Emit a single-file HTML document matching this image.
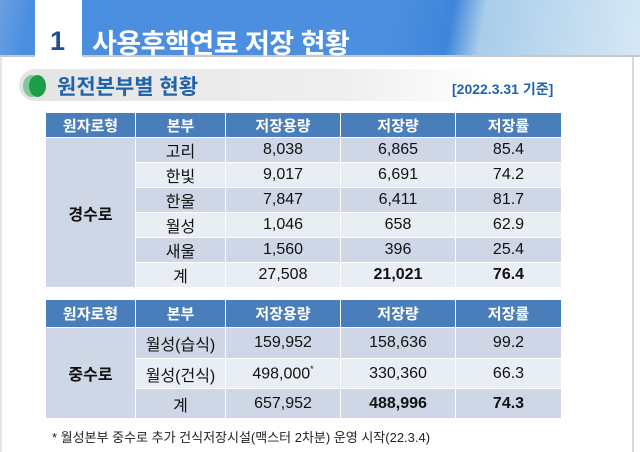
<!DOCTYPE html>
<html><head><meta charset="utf-8"><style>
*{margin:0;padding:0;box-sizing:border-box}
body{width:640px;height:452px;background:#fff;position:relative;overflow:hidden;font-family:"Liberation Sans","Noto Sans CJK KR",sans-serif}
.band{position:absolute;left:0;top:0;width:640px;height:57px;background:linear-gradient(100deg,#6aa0e0 0%,#4a8ee0 5%,#4d8fdf 60%,#3f86db 70%,#a9cdea 75%,#d6e8f5 100%);border-bottom:2px solid #c8c8c8}
.strip{position:absolute;left:35px;top:0;width:47px;height:57px;background:#fff}
.num{position:absolute;left:50px;top:26px;font-size:27px;font-weight:bold;color:#1d4f95}
.ttl{position:absolute;left:92px;top:22px;font-size:27px;font-weight:bold;color:#fff;letter-spacing:-0.5px}
.rborder{position:absolute;left:632px;top:57px;width:2px;height:395px;background:#d8d8d8}
.lborder{position:absolute;left:0;top:57px;width:2px;height:395px;background:#e6e6e6}
.pill{position:absolute;left:19px;top:69px;width:470px;height:32px;border-radius:16px 0 0 16px;background:linear-gradient(90deg,#e4e4e4,#efefef 70%,#fff)}
.c1{position:absolute;left:23px;top:75px;width:17px;height:22px;border-radius:50%;background:#7fc89a}
.c2{position:absolute;left:29px;top:75px;width:17px;height:22px;border-radius:50%;background:#1e9e48}
.sub{position:absolute;left:57px;top:71px;font-size:21px;font-weight:bold;color:#1f63ad}
.date{position:absolute;left:452px;top:79px;font-size:14px;font-weight:bold;color:#1f63ad}
table{position:absolute;left:45px;border-collapse:collapse;font-size:16px;color:#111}
td,th{text-align:center;border:1px solid #fff;padding:0}
th{background:#4a7ebb;color:#fff;font-weight:bold;font-size:15px}
.d{background:#cfd7e6}.l{background:#e9edf4}
b{font-weight:bold}
.foot{position:absolute;left:52px;top:427px;font-size:13px;color:#222}
</style></head><body>
<div class="band"></div><div class="strip"></div>
<div class="num">1</div><div class="ttl">사용후핵연료 저장 현황</div>
<div class="lborder"></div><div class="rborder"></div>
<div class="pill"></div><div class="c1"></div><div class="c2"></div>
<div class="sub">원전본부별 현황</div>
<div class="date">[2022.3.31 기준]</div>
<table style="top:112px">
<colgroup><col style="width:90px"><col style="width:90px"><col style="width:115px"><col style="width:115px"><col style="width:106px"></colgroup>
<tr style="height:25px"><th>원자로형</th><th>본부</th><th>저장용량</th><th>저장량</th><th>저장률</th></tr>
<tr style="height:25px" class="d"><td rowspan="6" class="d"><b>경수로</b></td><td>고리</td><td>8,038</td><td>6,865</td><td>85.4</td></tr>
<tr style="height:25px" class="l"><td>한빛</td><td>9,017</td><td>6,691</td><td>74.2</td></tr>
<tr style="height:25px" class="d"><td>한울</td><td>7,847</td><td>6,411</td><td>81.7</td></tr>
<tr style="height:25px" class="l"><td>월성</td><td>1,046</td><td>658</td><td>62.9</td></tr>
<tr style="height:25px" class="d"><td>새울</td><td>1,560</td><td>396</td><td>25.4</td></tr>
<tr style="height:25px" class="l"><td>계</td><td>27,508</td><td><b>21,021</b></td><td><b>76.4</b></td></tr>
</table>
<table style="top:299px">
<colgroup><col style="width:90px"><col style="width:90px"><col style="width:115px"><col style="width:115px"><col style="width:106px"></colgroup>
<tr style="height:28px"><th>원자로형</th><th>본부</th><th>저장용량</th><th>저장량</th><th>저장률</th></tr>
<tr style="height:31px" class="d"><td rowspan="3" class="d"><b>중수로</b></td><td>월성(습식)</td><td>159,952</td><td>158,636</td><td>99.2</td></tr>
<tr style="height:30px" class="l"><td>월성(건식)</td><td>498,000<sup style="font-size:9px">*</sup></td><td>330,360</td><td>66.3</td></tr>
<tr style="height:30px" class="d"><td>계</td><td>657,952</td><td><b>488,996</b></td><td><b>74.3</b></td></tr>
</table>
<div class="foot">* 월성본부 중수로 추가 건식저장시설(맥스터 2차분) 운영 시작(22.3.4)</div>
</body></html>
